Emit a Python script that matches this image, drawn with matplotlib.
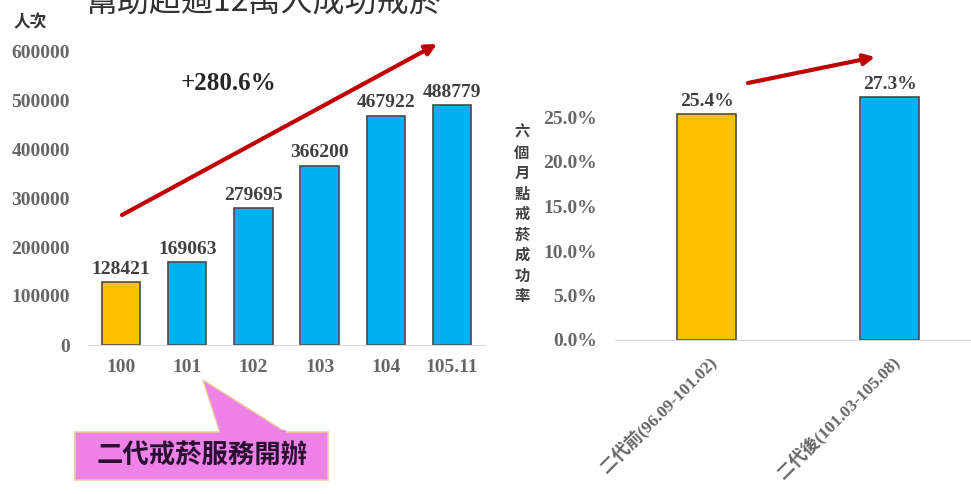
import matplotlib

matplotlib.use("Agg")
import matplotlib.pyplot as plt
from matplotlib.patches import FancyArrowPatch, Polygon, Rectangle
from matplotlib.ticker import FuncFormatter

plt.rcParams["font.family"] = ["Liberation Serif", "Noto Sans CJK TC"]

CJK = ["Noto Sans CJK TC", "DejaVu Sans"]

# left: yearly service count
years = ["100", "101", "102", "103", "104", "105.11"]
counts = [128421, 169063, 279695, 366200, 467922, 488779]
growth_label = "+280.6%"

# right: six-month quit rate before / after
periods = ["二代前(96.09-101.02)", "二代後(101.03-105.08)"]
rates = [25.4, 27.3]

ORANGE = "#FFC000"
BLUE = "#00B0F0"
EDGE = "#4a4a4a"
TXT = "#404040"
TICK = "#666666"
RED = "#C00000"

fig = plt.figure(figsize=(9.71, 4.94), dpi=100)
W, H = 971, 494


def px_axes(x0, y0, x1, y1):
    # axes placed by pixel box (top-left origin)
    return fig.add_axes([x0 / W, 1 - y1 / H, (x1 - x0) / W, (y1 - y0) / H])


# ---- left chart ----
ax1 = px_axes(88, 51, 485, 345)
cols = [ORANGE] + [BLUE] * (len(counts) - 1)
bars = ax1.bar(range(len(years)), counts, width=0.58, color=cols,
               edgecolor=EDGE, linewidth=1.2, zorder=2)
for b, v in zip(bars, counts):
    ax1.text(b.get_x() + b.get_width() / 2, v + 9000, str(v), ha="center",
             va="bottom", fontsize=14, fontweight="bold", color=TXT)
ax1.set_xlim(-0.5, 5.5)
ax1.set_ylim(0, 600000)
ax1.set_yticks(range(0, 600001, 100000))
ax1.set_xticks(range(len(years)))
ax1.set_xticklabels(years)
for s in ("top", "right", "left"):
    ax1.spines[s].set_visible(False)
ax1.spines["bottom"].set_color("#d9d9d9")
ax1.tick_params(axis="both", length=0, labelsize=14, labelcolor=TICK)
ax1.tick_params(axis="y", pad=13)
ax1.tick_params(axis="x", pad=10)
for lab in ax1.get_xticklabels() + ax1.get_yticklabels():
    lab.set_fontweight("bold")

# ---- right chart ----
ax2 = px_axes(615, 73, 981, 340)
bars2 = ax2.bar(range(len(periods)), rates, width=0.32, color=[ORANGE, BLUE],
                edgecolor=EDGE, linewidth=1.2, zorder=2)
for b, v in zip(bars2, rates):
    ax2.text(b.get_x() + b.get_width() / 2, v + 0.4, f"{v:.1f}%", ha="center",
             va="bottom", fontsize=14, fontweight="bold", color=TXT)
ax2.set_xlim(-0.5, 1.5)
ax2.set_ylim(0, 30)
ax2.set_yticks([0, 5, 10, 15, 20, 25])
ax2.yaxis.set_major_formatter(FuncFormatter(lambda v, p: f"{v:.1f}%"))
ax2.set_xticks(range(len(periods)))
ax2.set_xticklabels(periods, rotation=45, ha="right", rotation_mode="anchor",
                    family=["Liberation Serif", "Noto Sans CJK TC"])
for s in ("top", "right", "left"):
    ax2.spines[s].set_visible(False)
ax2.spines["bottom"].set_color("#d9d9d9")
ax2.tick_params(axis="y", length=0, labelsize=14, labelcolor=TICK, pad=13)
ax2.tick_params(axis="x", length=0, labelsize=12.5, labelcolor=TICK, pad=9)
for lab in ax2.get_xticklabels() + ax2.get_yticklabels():
    lab.set_fontweight("bold")

# ---- overlay annotations in pixel coords ----
ov = fig.add_axes([0, 0, 1, 1], zorder=5)
ov.set_xlim(0, W)
ov.set_ylim(H, 0)
ov.axis("off")

ov.text(85, 11, "幫助超過12萬人成功戒菸", family=CJK, fontsize=23,
        color="#333333", ha="left", va="baseline")
ov.text(14, 22, "人次", family=CJK, fontsize=12, fontweight="bold",
        color="#333333", ha="left", va="center")
ov.text(228, 83, growth_label, fontsize=18, fontweight="bold", color="#262626",
        ha="center", va="center")

ov.add_patch(FancyArrowPatch((122, 215), (437, 44), arrowstyle="-|>",
             mutation_scale=16, lw=3, color=RED, shrinkA=0, shrinkB=0))
ov.add_patch(FancyArrowPatch((748, 83), (875, 57), arrowstyle="-|>",
             mutation_scale=16, lw=3, color=RED, shrinkA=0, shrinkB=0))

# callout for the service launch
PINK = "#EE82E8"
ov.add_patch(Polygon([(203, 380), (220, 433), (287, 433)], closed=True,
             facecolor=PINK, edgecolor="#e8c9a0", lw=1, zorder=6))
ov.add_patch(Rectangle((75, 432), 253, 48, facecolor=PINK,
             edgecolor="#e8c9a0", lw=1.2, zorder=6))
ov.add_patch(Rectangle((220, 430), 66, 4, facecolor=PINK, edgecolor="none",
             zorder=7))
ov.text(202, 456, "二代戒菸服務開辦", family=CJK, fontsize=19,
        fontweight="bold", color="#2a1030", ha="center", va="center", zorder=8)

# vertical stacked y label on the right chart
ylabel = "六個月點戒菸成功率"
for i, ch in enumerate(ylabel):
    ov.text(522, 132 + i * 20.5, ch, family=CJK, fontsize=11,
            fontweight="bold", color="#404040", ha="center", va="center")

fig.savefig("out.png", dpi=100)
